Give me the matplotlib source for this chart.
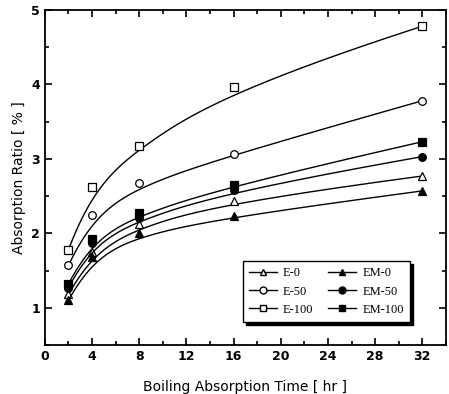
import numpy as np
import matplotlib.pyplot as plt
from matplotlib.ticker import MultipleLocator

# boiling time [hr]
hours = [2, 4, 8, 16, 32]

e0 = [1.18, 1.75, 2.12, 2.43, 2.77]
e50 = [1.57, 2.24, 2.67, 3.06, 3.78]
e100 = [1.78, 2.62, 3.17, 3.96, 4.78]
em0 = [1.10, 1.68, 2.00, 2.23, 2.57]
em50 = [1.27, 1.87, 2.20, 2.58, 3.03]
em100 = [1.32, 1.93, 2.27, 2.65, 3.23]

series = [
    ('E-0', e0, '^', 'white'),
    ('E-50', e50, 'o', 'white'),
    ('E-100', e100, 's', 'white'),
    ('EM-0', em0, '^', 'black'),
    ('EM-50', em50, 'o', 'black'),
    ('EM-100', em100, 's', 'black'),
]


def bspline(px, py, k=3, n=300):
    # clamped B-spline using the data points as control points
    px = np.asarray(px, float)
    py = np.asarray(py, float)
    m = len(px)
    inner = np.linspace(0, 1, m - k + 1)[1:-1]
    knots = np.concatenate([np.zeros(k + 1), inner, np.ones(k + 1)])
    t = np.linspace(0, 1, n)
    t[-1] -= 1e-9
    B = np.zeros((n, len(knots) - 1))
    for i in range(len(knots) - 1):
        B[:, i] = (knots[i] <= t) & (t < knots[i + 1])
    for d in range(1, k + 1):
        Bn = np.zeros((n, len(knots) - 1 - d))
        for i in range(len(knots) - 1 - d):
            a = knots[i + d] - knots[i]
            b = knots[i + d + 1] - knots[i + 1]
            if a > 0:
                Bn[:, i] += (t - knots[i]) / a * B[:, i]
            if b > 0:
                Bn[:, i] += (knots[i + d + 1] - t) / b * B[:, i + 1]
        B = Bn
    return B @ px, B @ py


fig = plt.figure(figsize=(4.49, 3.94), dpi=100)
ax = fig.add_axes([0.1, 0.124, 0.893, 0.851])

for name, ys, mk, fc in series:
    cx, cy = bspline(hours, ys)
    ax.plot(cx, cy, color='black', lw=1.0)
    ax.plot(hours, ys, ls='none', marker=mk, ms=5.5, mfc=fc, mec='black', mew=0.9)
    # legend proxy
    ax.plot([], [], color='black', lw=1.0, marker=mk, ms=5, mfc=fc, mec='black', label=name)

ax.set_xlim(0, 34)
ax.set_ylim(0.5, 5)
ax.xaxis.set_major_locator(MultipleLocator(4))
ax.xaxis.set_minor_locator(MultipleLocator(2))
ax.yaxis.set_major_locator(MultipleLocator(1))
ax.yaxis.set_minor_locator(MultipleLocator(0.5))
ax.tick_params(which='both', direction='in', top=True, right=True, width=1.2)
ax.tick_params(which='major', length=5, labelsize=9)
ax.tick_params(which='minor', length=3)
for lab in ax.get_xticklabels() + ax.get_yticklabels():
    lab.set_fontweight('bold')
for sp in ax.spines.values():
    sp.set_linewidth(1.3)

ax.set_xlabel('Boiling Absorption Time [ hr ]', fontsize=10, labelpad=12)
ax.set_ylabel('Absorption Ratio [ % ]', fontsize=10)

leg = ax.legend(ncol=2, loc='lower left', bbox_to_anchor=(0.494, 0.069),
                borderaxespad=0,
                prop={'family': 'Liberation Serif', 'size': 9}, fancybox=False,
                shadow={'color': 'black', 'alpha': 1}, edgecolor='black',
                framealpha=1, handlelength=2.2, columnspacing=1.2,
                labelspacing=0.5, borderpad=0.5, handletextpad=0.5)
leg.get_frame().set_linewidth(1.0)

fig.savefig('out.png', dpi=100)
